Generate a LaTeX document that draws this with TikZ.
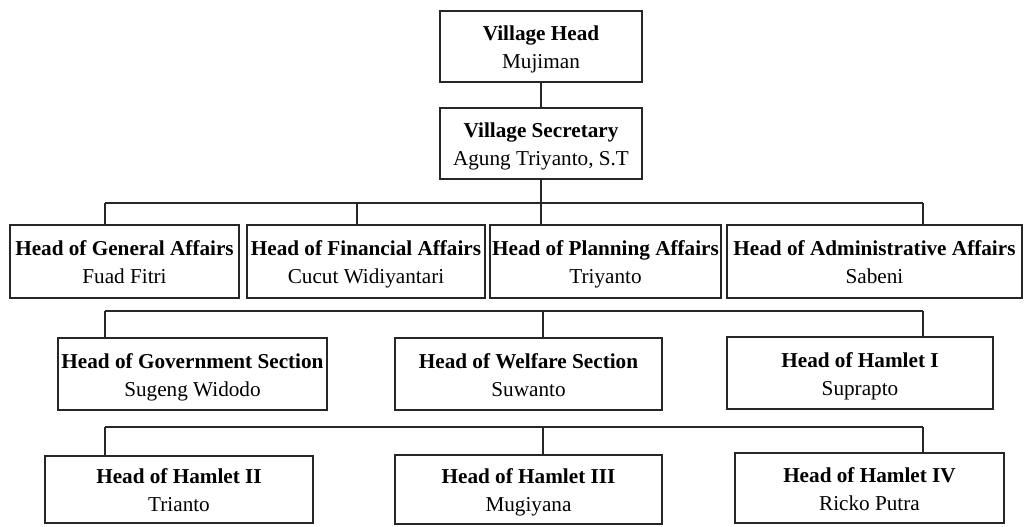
\documentclass[tikz,border=0pt]{standalone}
\usepackage{fontspec}
\setmainfont{Liberation Serif}
\begin{document}
\begin{tikzpicture}[x=1pt,y=-1pt,
  box/.style={draw=black!85, line width=1.4pt, rectangle, align=center, inner sep=0pt,
    font=\fontsize{21.2}{28}\selectfont},
  conn/.style={draw=black!85, line width=1.4pt}]
\useasboundingbox (0,0) rectangle (1025,527);
\newcommand{\lnstrut}{\rule[-6pt]{0pt}{28pt}}
\newcommand{\bx}[7]{\node[box, minimum width=#3pt, minimum height=#4pt] (#5) at (#1,#2) {\lnstrut\textbf{#6}\\\lnstrut #7};}
% top
\bx{541}{46.5}{202}{71}{vh}{Village Head}{Mujiman}
\bx{541}{143.5}{202}{71}{vs}{Village Secretary}{Agung Triyanto, S.T}
% row 1
\bx{124.5}{261.5}{229}{73}{ga}{Head of General Affairs}{Fuad Fitri}
\bx{366}{261.5}{238}{73}{fa}{Head of Financial Affairs}{Cucut Widiyantari}
\bx{605.5}{261.5}{231}{73}{pa}{Head of Planning Affairs}{Triyanto}
\bx{874.5}{261.5}{295}{73}{aa}{Head of Administrative Affairs}{Sabeni}
% row 2
\bx{192.5}{374}{269}{72}{gs}{Head of Government Section}{Sugeng Widodo}
\bx{528.5}{374}{267}{72}{ws}{Head of Welfare Section}{Suwanto}
\bx{860}{373}{266}{72}{hI}{Head of Hamlet I}{Suprapto}
% row 3
\bx{179}{489.5}{268}{67}{hII}{Head of Hamlet II}{Trianto}
\bx{528.5}{489.5}{267}{69}{hIII}{Head of Hamlet III}{Mugiyana}
\bx{869.5}{488}{269}{70}{hIV}{Head of Hamlet IV}{Ricko Putra}
% bars
\coordinate (b1L) at (105,203);
\coordinate (b1R) at (923,203);
\coordinate (b2L) at (105,311);
\coordinate (b2R) at (923,311);
\coordinate (b3L) at (105,427);
\coordinate (b3R) at (923,427);
\draw[conn] (vh.south) -- (vs.north);
\draw[conn] (vs.south) -- (pa.north -| vs.south);
\draw[conn] (b1L) -- (b1R);
\draw[conn] (b1L) -- (ga.north -| b1L);
\draw[conn] (b1L -| 357,0) -- (fa.north -| 357,0);
\draw[conn] (b1R) -- (aa.north -| b1R);
\draw[conn] (b2L) -- (b2R);
\draw[conn] (b2L) -- (gs.north -| b2L);
\draw[conn] (b2L -| 543,0) -- (ws.north -| 543,0);
\draw[conn] (b2R) -- (hI.north -| b2R);
\draw[conn] (b3L) -- (b3R);
\draw[conn] (b3L) -- (hII.north -| b3L);
\draw[conn] (b3L -| 543,0) -- (hIII.north -| 543,0);
\draw[conn] (b3R) -- (hIV.north -| b3R);
\end{tikzpicture}
\end{document}
